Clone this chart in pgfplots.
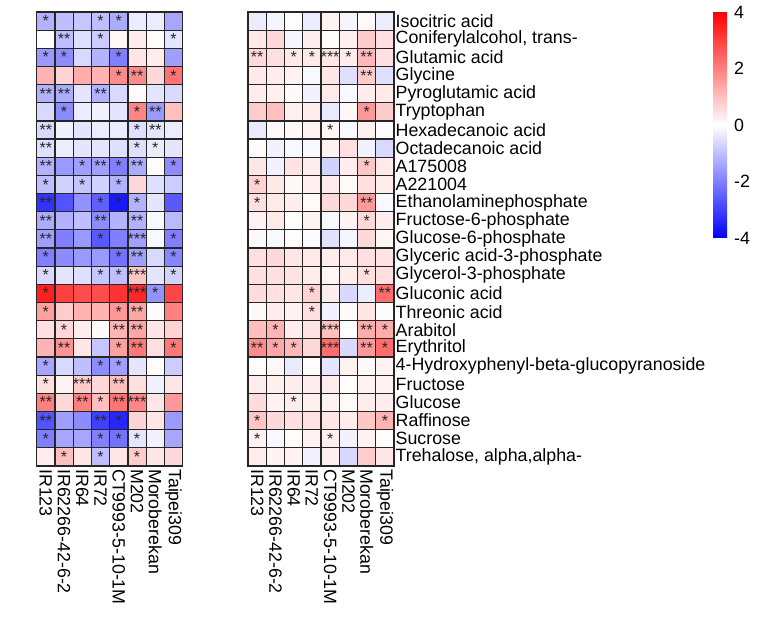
\documentclass[border=0pt]{standalone}
\usepackage{pgfplots}
\pgfplotsset{compat=1.18}
\usepackage{pgfplotstable}
\usepackage{fontspec}
\setmainfont{Liberation Sans}
\newcommand\lab{\fontsize{17.8bp}{20bp}\selectfont}
\newcommand\starfont{\fontsize{16bp}{17bp}\selectfont}

% Panel A: rows = metabolites (top to bottom), columns = genotypes
\pgfplotstableread{
c0 c1 c2 c3 c4 c5 c6 c7
-1.2 -1.0 -0.9 -1.0 -1.3 -0.3 -0.3 -1.4
0.05 -1.0 -0.5 -0.8 0.15 0.3 0.05 -0.4
-1.6 -1.8 -0.6 -1.2 -2.0 0.4 0.3 -1.5
1.2 0.7 1.3 1.2 1.8 1.8 0.6 2.2
-1.2 -1.3 -0.4 -1.2 -0.6 0.05 -0.4 -0.6
-0.6 -1.8 -0.3 -0.2 -0.4 1.9 -1.6 1.0
-0.6 -0.2 -0.4 -0.3 -0.3 -0.5 -0.4 -0.3
-0.5 -0.3 -0.4 -0.4 -0.5 -0.5 -0.3 -0.4
-1.2 -1.6 -1.5 -1.5 -2.0 -1.3 0.05 -1.8
-1.0 -0.7 -0.9 -0.7 -1.2 0.6 -0.5 -0.8
-3.2 -2.7 -1.7 -2.5 -3.6 -1.2 -0.4 -2.6
-1.3 -1.2 -1.0 -1.8 -1.2 -1.2 -0.1 -1.1
-1.5 -2.0 -1.6 -2.6 -2.0 -1.5 -0.1 -2.0
-2.0 -1.8 -1.6 -1.6 -2.2 -1.5 -0.6 -1.9
-0.6 -0.4 -0.5 -0.9 -1.0 0.9 -0.4 -0.7
3.5 3.0 2.8 2.8 3.2 3.4 -1.7 2.9
1.5 0.8 1.2 1.2 1.6 1.4 0.05 2.0
0.5 0.6 0.3 0.1 1.2 1.4 0.4 0.7
1.2 1.7 0.4 -0.9 1.5 2.1 0.5 2.1
-1.4 -0.6 -1.0 -1.8 -1.5 -0.4 0.05 -0.8
0.5 0.2 0.8 0.6 1.0 0.5 -0.2 0.4
2.0 0.6 2.0 1.0 2.2 1.9 0.4 1.6
-2.7 -1.5 -1.8 -3.0 -3.4 0.7 0.4 -1.6
-2.0 -1.4 -1.4 -2.0 -2.2 -0.4 -0.2 -1.4
0.3 1.0 0.4 -1.0 0.4 0.8 0.4 0.6
}\dataA

% Panel B
\pgfplotstableread{
c0 c1 c2 c3 c4 c5 c6 c7
-0.3 -0.15 0.05 -0.3 0.2 -0.15 0.1 -0.3
0.35 0.6 -0.15 0.3 0.05 0.25 0.8 0.5
0.6 0.5 0.35 0.35 0.4 0.3 1.1 0.5
0.35 0.3 0.2 -0.1 0.4 -0.5 0.8 -0.5
0.3 0.25 0.1 -0.2 0.35 -0.1 0.3 0.35
0.8 1.0 0.25 0.3 -0.35 0.15 1.6 0.8
-0.35 0.1 0.1 0.2 0.15 -0.1 0.25 -0.05
0.05 -0.2 -0.1 -0.1 0.2 0.5 -0.2 -0.6
0.4 -0.2 0.45 0.3 -0.7 0.3 0.9 0.35
0.7 0.35 0.1 0.25 0.3 0.1 0.5 0.3
0.5 0.35 0.3 0.1 0.6 0.6 1.6 -0.1
0.2 0.35 0.05 0.2 -0.1 0.2 0.6 0.3
0.1 -0.1 0.05 -0.05 -0.45 -0.15 0.6 0.15
0.5 0.6 0.4 0.35 0.3 0.35 0.5 0.45
0.5 0.5 0.45 0.3 0.15 0.3 0.5 0.5
0.55 0.5 0.4 0.7 0.3 -0.6 -0.3 2.3
0.1 0.3 0.2 0.5 -0.2 0.1 0.4 -0.05
1.0 1.2 0.3 0.45 1.0 0.05 1.3 1.3
1.8 1.4 1.1 0.6 2.3 -0.6 1.6 2.3
0.05 0.15 -0.35 0.05 -0.4 0.2 0.1 0.2
0.3 0.25 0.3 0.3 0.3 0.05 0.2 0.2
0.55 0.2 0.3 0.25 0.2 0.1 0.3 0.3
0.9 0.6 0.5 0.45 0.4 0.3 0.9 1.2
0.2 -0.1 0.05 0.2 0.25 -0.2 0.2 0.05
0.3 0.2 0.2 -0.2 0.25 -0.6 0.8 0.4
}\dataB

% significance stars: column x, row y
\pgfplotstableread{
x y s
0 0 *
3 0 *
4 0 *
1 1 **
3 1 *
7 1 *
0 2 *
1 2 *
4 2 *
4 3 *
5 3 **
7 3 *
0 4 **
1 4 **
3 4 **
1 5 *
5 5 *
6 5 **
0 6 **
5 6 *
6 6 **
0 7 **
5 7 *
6 7 *
0 8 **
2 8 *
3 8 **
4 8 *
5 8 **
7 8 *
0 9 *
2 9 *
4 9 *
0 10 **
3 10 *
4 10 *
5 10 *
0 11 **
3 11 **
5 11 **
0 12 **
3 12 *
5 12 ***
7 12 *
0 13 *
4 13 *
5 13 **
7 13 *
0 14 *
3 14 *
4 14 *
5 14 ***
7 14 *
0 15 *
5 15 ***
6 15 *
0 16 *
4 16 *
5 16 **
1 17 *
4 17 **
5 17 **
1 18 **
4 18 *
5 18 **
7 18 *
0 19 *
3 19 *
4 19 *
0 20 *
2 20 ***
4 20 **
0 21 **
2 21 **
3 21 *
4 21 **
5 21 ***
0 22 **
3 22 **
4 22 *
0 23 *
3 23 *
4 23 *
5 23 *
1 24 *
3 24 *
5 24 *
}\starsA

\pgfplotstableread{
x y s
0 2 **
2 2 *
3 2 *
4 2 ***
5 2 *
6 2 **
6 3 **
6 5 *
4 6 *
6 8 *
0 9 *
0 10 *
6 10 **
6 11 *
6 14 *
3 15 *
7 15 **
3 16 *
1 17 *
4 17 ***
6 17 **
7 17 *
0 18 **
1 18 *
2 18 *
4 18 ***
6 18 **
7 18 *
2 21 *
0 22 *
7 22 *
0 23 *
4 23 *
}\starsB

\pgfplotsset{
  hm/.style={
    scale only axis, width=146bp, height=454bp,
    xmin=-0.5, xmax=7.5, ymin=-0.5, ymax=24.5, y dir=reverse,
    colormap={bwr}{rgb255=(0,0,255) rgb255=(255,255,255) rgb255=(255,0,0)},
    point meta min=-4, point meta max=4,
    xtick={0,...,7},
    xticklabels={IR123,IR62266-42-6-2,IR64,IR72,CT9993-5-10-1M,M202,Moroberekan,Taipei309},
    xticklabel style={rotate=-90, anchor=west, font=\lab, inner sep=3bp},
    major tick length=0pt,
    axis line style={black!85, line width=1.2bp},
    axis on top,
  },
  cell/.style={scatter, only marks, mark=square*, mark size=9.125bp, line width=1.2bp,
    scatter/use mapped color={draw=black!85, fill=mapped color}, point meta=explicit},
  stars/.style={only marks, mark=none, point meta=explicit symbolic,
    nodes near coords={\pgfplotspointmeta},
    every node near coord/.append style={anchor=center, font=\starfont, text=black!85, inner sep=0pt}},
}

\begin{document}
\begin{tikzpicture}
\useasboundingbox (0,0) rectangle (758bp,623bp);

\begin{axis}[hm, at={(36.7bp,611bp)}, anchor=north west, ytick=\empty]
\pgfplotsinvokeforeach{0,...,7}{
  \addplot[cell] table[x expr=#1, y expr=\coordindex, meta=c#1] {\dataA};
}
\addplot[stars] table[x=x, y=y, meta=s] {\starsA};
\node[font=\bfseries\lab, anchor=base east, xshift=-18bp, yshift=-18bp] at (axis description cs:0,1) {A};
\end{axis}

\begin{axis}[hm, at={(248bp,611bp)}, anchor=north west,
  ytick={0,...,24}, yticklabel pos=right,
  yticklabels={Isocitric acid,{Coniferylalcohol, trans-},Glutamic acid,Glycine,Pyroglutamic acid,Tryptophan,Hexadecanoic acid,Octadecanoic acid,A175008,A221004,Ethanolaminephosphate,Fructose-6-phosphate,Glucose-6-phosphate,Glyceric acid-3-phosphate,Glycerol-3-phosphate,Gluconic acid,Threonic acid,Arabitol,Erythritol,4-Hydroxyphenyl-beta-glucopyranoside,Fructose,Glucose,Raffinose,Sucrose,{Trehalose, alpha,alpha-}},
  yticklabel style={anchor=west, font=\lab, inner sep=1.5bp},
  colorbar,
  colorbar style={
    at={(parent axis.north east)}, anchor=north west, xshift=310.5bp,
    scale only axis, width=15bp, height=226bp,
    y dir=normal,
    ytick={-4,-2,0,2,4}, yticklabels={-4,-2,0,2,4},
    yticklabel pos=right,
    yticklabel style={font=\lab, anchor=west, rotate=0, inner sep=0pt, xshift=6bp},
    major tick length=0pt,
    axis line style={draw=none},
  },
]
\pgfplotsinvokeforeach{0,...,7}{
  \addplot[cell] table[x expr=#1, y expr=\coordindex, meta=c#1] {\dataB};
}
\addplot[stars] table[x=x, y=y, meta=s] {\starsB};
\node[font=\bfseries\lab, anchor=base east, xshift=-17bp, yshift=-18bp] at (axis description cs:0,1) {B};
\end{axis}
\end{tikzpicture}
\end{document}
